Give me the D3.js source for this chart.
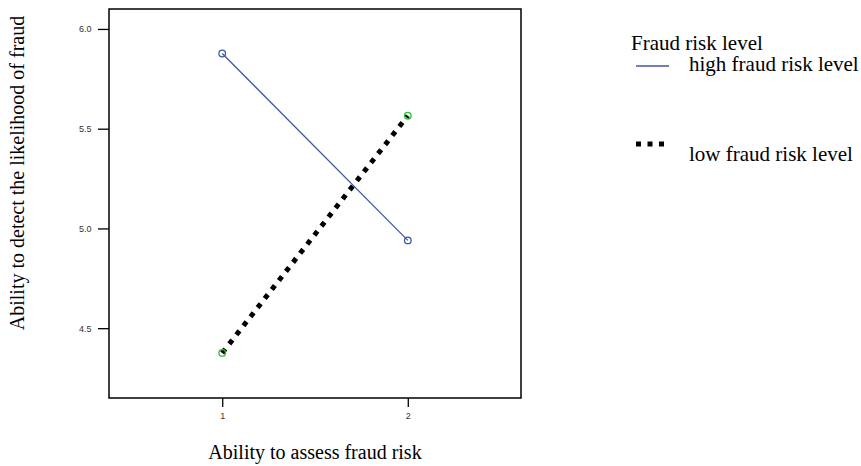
<!DOCTYPE html>
<html>
<head>
    <script src="https://d3js.org/d3.v7.min.js"></script>
    <style>
        body { margin: 0; background: #fff; }
        .tick text { font-family: "Liberation Sans", Arial, sans-serif; font-size: 9px; fill: #333; }
        .title { font-family: "Liberation Serif", "Times New Roman", serif; font-size: 21px; fill: #000; }
        .axis-title { font-family: "Liberation Serif", "Times New Roman", serif; font-size: 20px; fill: #000; }
    </style>
</head>
<body>
    <div id="chart"></div>
    <script>
        const xValues = [1, 2];
        const highRisk = [5.877, 4.94];
        const lowRisk = [4.376, 5.565];
        const yTicks = [4.5, 5.0, 5.5, 6.0];
        const seriesNames = ["high fraud risk level", "low fraud risk level"];

        const margin = { top: 9, right: 340, bottom: 68, left: 109 },
              width = 861 - margin.left - margin.right,
              height = 466 - margin.top - margin.bottom;

        const svg = d3.select("#chart")
                      .append("svg")
                      .attr("width", 861)
                      .attr("height", 466);

        const g = svg.append("g")
                     .attr("transform", `translate(${margin.left},${margin.top})`);

        const x = d3.scaleLinear().domain([0.39, 2.61]).range([0, width]);
        const y = d3.scaleLinear().domain([4.15, 6.1]).range([height, 0]);

        // axes
        const xAxis = g.append("g")
                       .attr("transform", `translate(0,${height})`)
                       .call(d3.axisBottom(x).tickValues(xValues).tickFormat(d3.format("d")).tickSize(9).tickSizeOuter(0));
        const yAxis = g.append("g")
                       .call(d3.axisLeft(y).tickValues(yTicks).tickFormat(d3.format(".1f")).tickSize(11).tickSizeOuter(0));
        [xAxis, yAxis].forEach(a => {
            a.select(".domain").remove();
            a.selectAll(".tick line").attr("stroke", "#000").attr("stroke-width", 1.3);
        });
        xAxis.selectAll(".tick text").attr("dy", "1.05em");
        yAxis.selectAll(".tick text").attr("dx", "-0.4em");

        // frame
        g.append("rect")
         .attr("width", width)
         .attr("height", height)
         .attr("fill", "none")
         .attr("stroke", "#000")
         .attr("stroke-width", 1.5);

        const line = d3.line().x((d, i) => x(xValues[i])).y(d => y(d));

        g.append("path")
         .datum(lowRisk)
         .attr("d", line)
         .attr("fill", "none")
         .attr("stroke", "#000")
         .attr("stroke-width", 5)
         .attr("stroke-dasharray", "5,6.5");

        g.append("path")
         .datum(highRisk)
         .attr("d", line)
         .attr("fill", "none")
         .attr("stroke", "#3f58a8")
         .attr("stroke-width", 1.3);

        g.selectAll(".mk-high")
         .data(highRisk)
         .enter().append("circle")
         .attr("cx", (d, i) => x(xValues[i]))
         .attr("cy", d => y(d))
         .attr("r", 3.3)
         .attr("fill", "none")
         .attr("stroke", "#3f58a8")
         .attr("stroke-width", 1.3);

        g.selectAll(".mk-low")
         .data(lowRisk)
         .enter().append("circle")
         .attr("cx", (d, i) => x(xValues[i]))
         .attr("cy", d => y(d))
         .attr("r", 3.3)
         .attr("fill", "none")
         .attr("stroke", "#2fbf3a")
         .attr("stroke-width", 1.3);

        // axis titles
        svg.append("text")
           .attr("class", "axis-title")
           .attr("x", margin.left + x(1.5))
           .attr("y", 459)
           .attr("text-anchor", "middle")
           .text("Ability to assess fraud risk");

        svg.append("text")
           .attr("class", "axis-title")
           .attr("transform", `translate(24,${173}) rotate(-90)`)
           .attr("text-anchor", "middle")
           .text("Ability to detect the likelihood of fraud");

        // legend
        const legend = svg.append("g").attr("transform", "translate(631,0)");
        legend.append("text").attr("class", "title").attr("x", 0).attr("y", 50).text("Fraud risk level");

        legend.append("line")
              .attr("x1", 5).attr("x2", 38).attr("y1", 66).attr("y2", 66)
              .attr("stroke", "#3f58a8").attr("stroke-width", 1.3);
        legend.append("text").attr("class", "title").attr("x", 58).attr("y", 71).text(seriesNames[0]);

        legend.append("line")
              .attr("x1", 5).attr("x2", 37).attr("y1", 144).attr("y2", 144)
              .attr("stroke", "#000").attr("stroke-width", 5)
              .attr("stroke-dasharray", "5,6.5");
        legend.append("text").attr("class", "title").attr("x", 58).attr("y", 161).text(seriesNames[1]);
    </script>
</body>
</html>
